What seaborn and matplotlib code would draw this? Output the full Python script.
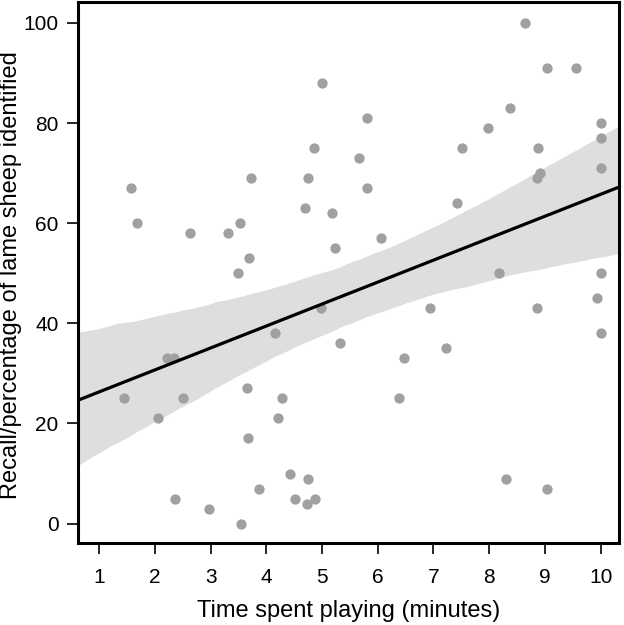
import numpy as np
import pandas as pd
import matplotlib
matplotlib.use("Agg")
import matplotlib.pyplot as plt
import seaborn as sns

# time spent playing (minutes) and recall (%)
time_min = [5.00, 4.86, 5.66, 1.58, 3.73, 4.75, 4.70, 5.17, 1.68, 3.53,
            2.63, 3.32, 5.23, 3.69, 3.50, 8.65, 9.04, 9.56, 8.38, 5.80,
            7.97, 10.0, 10.0, 7.52, 8.88, 10.0, 8.92, 8.86, 5.80, 7.42,
            6.06, 8.18, 10.0, 4.98, 4.15, 5.32, 2.21, 2.34, 3.66, 1.45,
            2.50, 4.28, 2.05, 4.21, 3.68, 4.43, 4.75, 3.87, 2.36, 4.51,
            4.87, 4.73, 2.98, 3.54, 9.93, 6.93, 8.86, 10.0, 7.23, 6.48,
            6.39, 8.31, 9.04]
recall = [88, 75, 73, 67, 69, 69, 63, 62, 60, 60,
          58, 58, 55, 53, 50, 100, 91, 91, 83, 81,
          79, 80, 77, 75, 75, 71, 70, 69, 67, 64,
          57, 50, 50, 43, 38, 36, 33, 33, 27, 25,
          25, 25, 21, 21, 17, 10, 9, 7, 5, 5,
          5, 4, 3, 0, 45, 43, 43, 38, 35, 33,
          25, 9, 7]

x_ticks = [1, 2, 3, 4, 5, 6, 7, 8, 9, 10]
y_ticks = [0, 20, 40, 60, 80, 100]

df = pd.DataFrame({"time": time_min, "recall": recall})

sns.set_style("ticks")
plt.rcParams["font.family"] = ["Liberation Sans", "DejaVu Sans"]
plt.rcParams["text.color"] = "black"
plt.rcParams["axes.labelcolor"] = "black"
plt.rcParams["xtick.color"] = "black"
plt.rcParams["ytick.color"] = "black"

fig = plt.figure(figsize=(6.24, 6.25), dpi=100)
ax = fig.add_axes([0.125, 0.131, 0.867, 0.866])
ax.set_xlim(0.62, 10.33)
ax.set_ylim(-3.9, 104.2)

sns.regplot(data=df, x="time", y="recall", ax=ax, truncate=False,
            n_boot=2000, seed=3,
            scatter_kws=dict(s=55, color="#a0a0a0", alpha=1, linewidths=0, zorder=3),
            line_kws=dict(color="black", lw=2.3, zorder=4))
# light grey band like the reference
for coll in ax.collections[1:]:
    coll.set_facecolor("#dedede")
    coll.set_alpha(1)
    coll.set_zorder(1)

ax.set_xticks(x_ticks)
ax.set_yticks(y_ticks)
for side in ["top", "right", "bottom", "left"]:
    ax.spines[side].set_visible(True)
    ax.spines[side].set_linewidth(2.2)
    ax.spines[side].set_color("black")
ax.tick_params(axis="both", direction="out", length=8, width=1.2, labelsize=15,
               color="black", labelcolor="black")
ax.tick_params(axis="x", pad=10)
ax.tick_params(axis="y", pad=6)
ax.set_xlabel("Time spent playing (minutes)", fontsize=17, labelpad=9, color="black")
ax.set_ylabel("Recall/percentage of lame sheep identified", fontsize=17, color="black")
ax.yaxis.set_label_coords(-0.103, 0.495)

fig.savefig("out.png", dpi=100)
